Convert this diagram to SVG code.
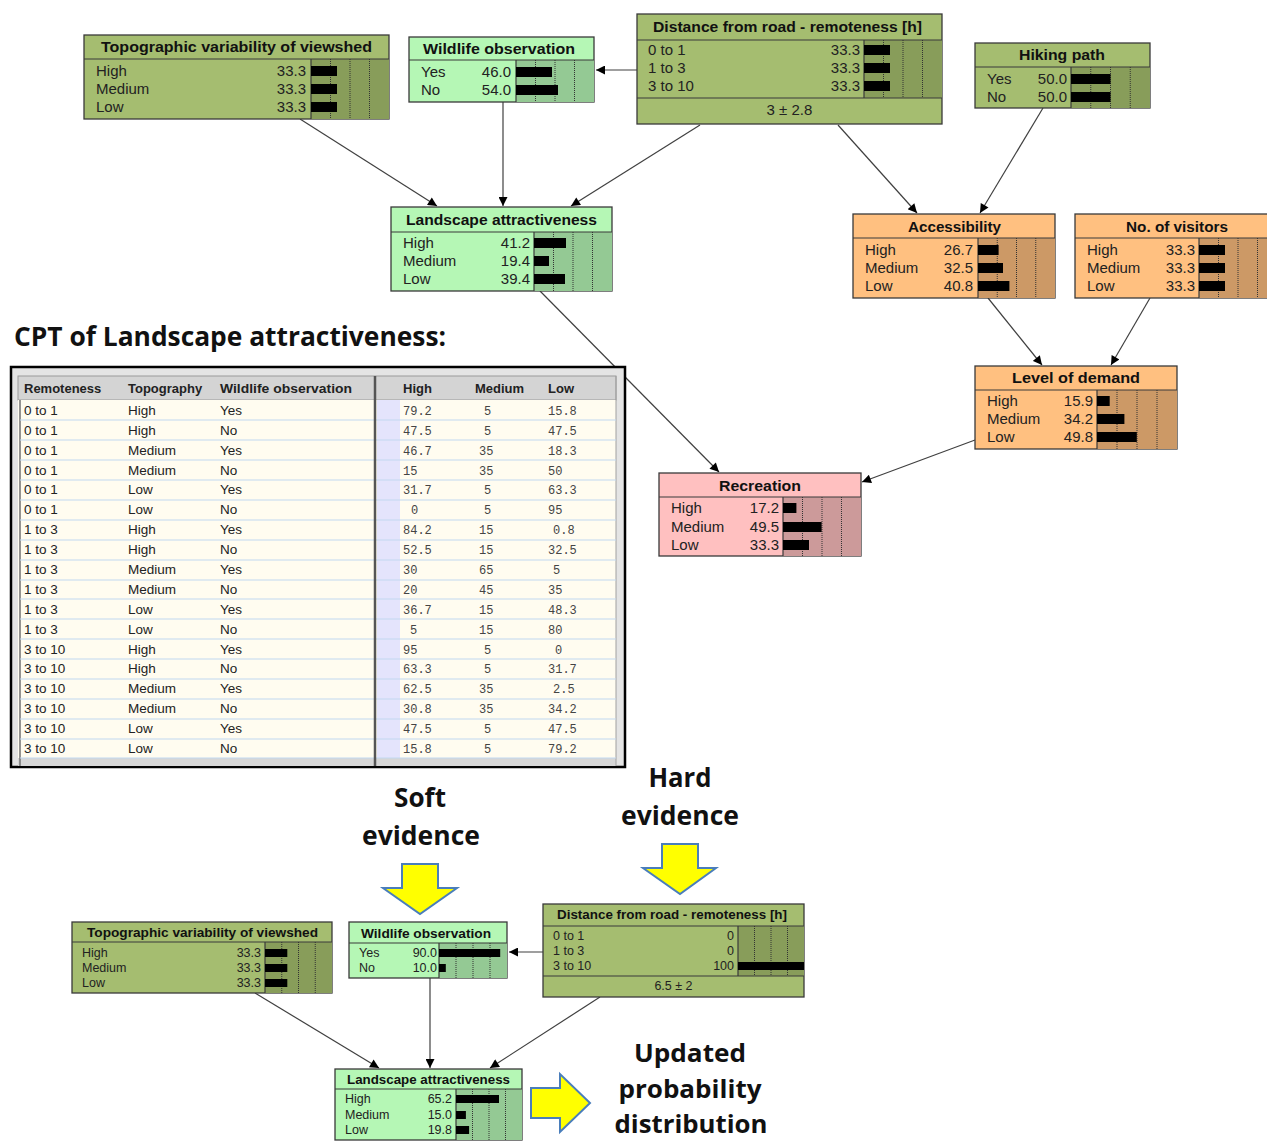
<svg xmlns="http://www.w3.org/2000/svg" width="1267" height="1142" viewBox="0 0 1267 1142">
<defs>
<style>
.olive{fill:#a5bd70;stroke:#3a3a3a;stroke-width:1.3}
.oliveBar{fill:#889d5a}
.green{fill:#b5f7b5;stroke:#3a3a3a;stroke-width:1.3}
.greenBar{fill:#94c994}
.orange{fill:#ffc080;stroke:#3a3a3a;stroke-width:1.3}
.orangeBar{fill:#cc9966}
.pink{fill:#ffc0c0;stroke:#3a3a3a;stroke-width:1.3}
.pinkBar{fill:#cc9a9a}
.div{stroke:#3a3a3a;stroke-width:1.2;fill:none}
.grid{stroke:#333;stroke-width:1;stroke-dasharray:1,1;fill:none}
.bar{fill:#000}
.t{font-family:"Liberation Sans",Arial,sans-serif;font-weight:bold;font-size:15px;fill:#111;text-anchor:middle}
.l{font-family:"Liberation Sans",Arial,sans-serif;font-size:15px;fill:#222}
.v{font-family:"Liberation Sans",Arial,sans-serif;font-size:15px;fill:#222;text-anchor:end}
.ts{font-family:"Liberation Sans",Arial,sans-serif;font-weight:bold;font-size:13px;fill:#111;text-anchor:middle}
.ls{font-family:"Liberation Sans",Arial,sans-serif;font-size:12.5px;fill:#222}
.vs{font-family:"Liberation Sans",Arial,sans-serif;font-size:12.5px;fill:#222;text-anchor:end}
.conn{stroke:#404040;stroke-width:1.2;fill:none;marker-end:url(#ah)}
.big{font-family:"Open Sans","Liberation Sans",sans-serif;font-weight:bold;font-size:27px;fill:#111;text-anchor:middle}
.big2{font-family:"Open Sans","Liberation Sans",sans-serif;font-weight:bold;font-size:25px;fill:#111;text-anchor:middle}
.th{font-family:"Liberation Sans",Arial,sans-serif;font-weight:bold;font-size:13px;fill:#222}
.tc{font-family:"Liberation Sans",Arial,sans-serif;font-size:13.5px;fill:#222}
.tn{font-family:"Liberation Mono","Courier New",monospace;font-size:12px;fill:#444}
.rowl{stroke:#c2d8ef;stroke-width:1.2}
.yarrow{fill:#ffff00;stroke:#4a7ebb;stroke-width:2}
</style>
<marker id="ah" viewBox="0 0 10 10" refX="10" refY="5" markerWidth="11" markerHeight="9" markerUnits="userSpaceOnUse" orient="auto"><path d="M0,0 L10,5 L0,10 z" fill="#000"/></marker>
</defs>
<rect width="1267" height="1142" fill="#fff"/>

<!-- connectors -->
<g id="connectors">
<line class="conn" x1="637" y1="70" x2="596" y2="70"/>
<line class="conn" x1="300" y1="119" x2="437" y2="206"/>
<line class="conn" x1="503" y1="102" x2="503" y2="206"/>
<line class="conn" x1="700" y1="125" x2="571" y2="206"/>
<line class="conn" x1="838" y1="125" x2="917" y2="213"/>
<line class="conn" x1="1043" y1="108" x2="980" y2="213"/>
<line class="conn" x1="988" y1="298" x2="1042" y2="365"/>
<line class="conn" x1="1150" y1="298" x2="1111" y2="365"/>
<line class="conn" x1="540" y1="291" x2="719" y2="472"/>
<line class="conn" x1="975" y1="440" x2="862" y2="482"/>
<line class="conn" x1="543" y1="952" x2="509" y2="952"/>
<line class="conn" x1="255" y1="993" x2="379" y2="1068"/>
<line class="conn" x1="430" y1="978" x2="430" y2="1068"/>
<line class="conn" x1="600" y1="997" x2="490" y2="1068"/>
</g>

<!-- top nodes -->
<g id="topo_top">
<rect x="84" y="35" width="305" height="84" class="olive"/>
<rect x="311" y="59" width="78" height="60" class="oliveBar"/>
<line class="div" x1="84" y1="59" x2="389" y2="59"/><line class="div" x1="311" y1="59" x2="311" y2="119"/>
<path class="grid" d="M330.5,59V119M350,59V119M369.5,59V119"/>
<text class="t" x="236.5" y="52" textLength="271" lengthAdjust="spacingAndGlyphs">Topographic variability of viewshed</text>
<text class="l" x="96" y="76">High</text><text class="v" x="306" y="76">33.3</text><rect class="bar" x="311" y="66" width="26" height="10"/>
<text class="l" x="96" y="94">Medium</text><text class="v" x="306" y="94">33.3</text><rect class="bar" x="311" y="84" width="26" height="10"/>
<text class="l" x="96" y="112">Low</text><text class="v" x="306" y="112">33.3</text><rect class="bar" x="311" y="102" width="26" height="10"/>
</g>

<g id="wildlife_top">
<rect x="409" y="37" width="185" height="65" class="green"/>
<rect x="516" y="60" width="78" height="42" class="greenBar"/>
<line class="div" x1="409" y1="60" x2="594" y2="60"/><line class="div" x1="516" y1="60" x2="516" y2="102"/>
<path class="grid" d="M535.5,60V102M555,60V102M574.5,60V102"/>
<text class="t" x="499" y="54" textLength="152" lengthAdjust="spacingAndGlyphs">Wildlife observation</text>
<text class="l" x="421" y="77">Yes</text><text class="v" x="511" y="77">46.0</text><rect class="bar" x="516" y="67" width="36" height="10"/>
<text class="l" x="421" y="95">No</text><text class="v" x="511" y="95">54.0</text><rect class="bar" x="516" y="85" width="42" height="10"/>
</g>

<g id="distance_top">
<rect x="637" y="14" width="305" height="110" class="olive"/>
<rect x="864" y="40" width="78" height="58" class="oliveBar"/>
<line class="div" x1="637" y1="40" x2="942" y2="40"/><line class="div" x1="637" y1="98" x2="942" y2="98"/><line class="div" x1="864" y1="40" x2="864" y2="98"/>
<path class="grid" d="M883.5,40V98M903,40V98M922.5,40V98"/>
<text class="t" x="787.5" y="32" textLength="269" lengthAdjust="spacingAndGlyphs">Distance from road - remoteness [h]</text>
<text class="l" x="648" y="55">0 to 1</text><text class="v" x="860" y="55">33.3</text><rect class="bar" x="864" y="45" width="26" height="10"/>
<text class="l" x="648" y="73">1 to 3</text><text class="v" x="860" y="73">33.3</text><rect class="bar" x="864" y="63" width="26" height="10"/>
<text class="l" x="648" y="91">3 to 10</text><text class="v" x="860" y="91">33.3</text><rect class="bar" x="864" y="81" width="26" height="10"/>
<text class="l" x="789.5" y="115" text-anchor="middle">3 ± 2.8</text>
</g>

<g id="hiking">
<rect x="975" y="43" width="175" height="65" class="olive"/>
<rect x="1071" y="67" width="79" height="41" class="oliveBar"/>
<line class="div" x1="975" y1="67" x2="1150" y2="67"/><line class="div" x1="1071" y1="67" x2="1071" y2="108"/>
<path class="grid" d="M1090.75,67V108M1110.5,67V108M1130.25,67V108"/>
<text class="t" x="1062" y="60" textLength="86" lengthAdjust="spacingAndGlyphs">Hiking path</text>
<text class="l" x="987" y="84">Yes</text><text class="v" x="1067" y="84">50.0</text><rect class="bar" x="1071" y="74" width="39.5" height="10"/>
<text class="l" x="987" y="102">No</text><text class="v" x="1067" y="102">50.0</text><rect class="bar" x="1071" y="92" width="39.5" height="10"/>
</g>

<g id="landscape_top">
<rect x="391" y="207" width="221" height="84" class="green"/>
<rect x="534" y="232" width="78" height="59" class="greenBar"/>
<line class="div" x1="391" y1="232" x2="612" y2="232"/><line class="div" x1="534" y1="232" x2="534" y2="291"/>
<path class="grid" d="M553.5,232V291M573,232V291M592.5,232V291"/>
<text class="t" x="501.5" y="225" textLength="191" lengthAdjust="spacingAndGlyphs">Landscape attractiveness</text>
<text class="l" x="403" y="248">High</text><text class="v" x="530" y="248">41.2</text><rect class="bar" x="534" y="238" width="32" height="10"/>
<text class="l" x="403" y="266">Medium</text><text class="v" x="530" y="266">19.4</text><rect class="bar" x="534" y="256" width="15" height="10"/>
<text class="l" x="403" y="284">Low</text><text class="v" x="530" y="284">39.4</text><rect class="bar" x="534" y="274" width="31" height="10"/>
</g>

<g id="accessibility">
<rect x="853" y="214" width="202" height="84" class="orange"/>
<rect x="978" y="238" width="77" height="60" class="orangeBar"/>
<line class="div" x1="853" y1="238" x2="1055" y2="238"/><line class="div" x1="978" y1="238" x2="978" y2="298"/>
<path class="grid" d="M997.25,238V298M1016.5,238V298M1035.75,238V298"/>
<text class="t" x="954.5" y="232" textLength="93" lengthAdjust="spacingAndGlyphs">Accessibility</text>
<text class="l" x="865" y="255">High</text><text class="v" x="973" y="255">26.7</text><rect class="bar" x="978" y="245" width="20.6" height="10"/>
<text class="l" x="865" y="273">Medium</text><text class="v" x="973" y="273">32.5</text><rect class="bar" x="978" y="263" width="25" height="10"/>
<text class="l" x="865" y="291">Low</text><text class="v" x="973" y="291">40.8</text><rect class="bar" x="978" y="281" width="31.4" height="10"/>
</g>

<g id="visitors">
<rect x="1075" y="214" width="202" height="84" class="orange"/>
<rect x="1199" y="238" width="78" height="60" class="orangeBar"/>
<line class="div" x1="1075" y1="238" x2="1277" y2="238"/><line class="div" x1="1199" y1="238" x2="1199" y2="298"/>
<path class="grid" d="M1218.5,238V298M1238,238V298M1257.5,238V298"/>
<text class="t" x="1177" y="232" textLength="102" lengthAdjust="spacingAndGlyphs">No. of visitors</text>
<text class="l" x="1087" y="255">High</text><text class="v" x="1195" y="255">33.3</text><rect class="bar" x="1199" y="245" width="26" height="10"/>
<text class="l" x="1087" y="273">Medium</text><text class="v" x="1195" y="273">33.3</text><rect class="bar" x="1199" y="263" width="26" height="10"/>
<text class="l" x="1087" y="291">Low</text><text class="v" x="1195" y="291">33.3</text><rect class="bar" x="1199" y="281" width="26" height="10"/>
</g>

<g id="demand">
<rect x="975" y="366" width="202" height="83" class="orange"/>
<rect x="1097" y="390" width="80" height="59" class="orangeBar"/>
<line class="div" x1="975" y1="390" x2="1177" y2="390"/><line class="div" x1="1097" y1="390" x2="1097" y2="449"/>
<path class="grid" d="M1117,390V449M1137,390V449M1157,390V449"/>
<text class="t" x="1076" y="383" textLength="128" lengthAdjust="spacingAndGlyphs">Level of demand</text>
<text class="l" x="987" y="406">High</text><text class="v" x="1093" y="406">15.9</text><rect class="bar" x="1097" y="396" width="12.7" height="10"/>
<text class="l" x="987" y="424">Medium</text><text class="v" x="1093" y="424">34.2</text><rect class="bar" x="1097" y="414" width="27.4" height="10"/>
<text class="l" x="987" y="442">Low</text><text class="v" x="1093" y="442">49.8</text><rect class="bar" x="1097" y="432" width="39.8" height="10"/>
</g>

<g id="recreation">
<rect x="659" y="473" width="202" height="83" class="pink"/>
<rect x="783" y="497" width="78" height="59" class="pinkBar"/>
<line class="div" x1="659" y1="497" x2="861" y2="497"/><line class="div" x1="783" y1="497" x2="783" y2="556"/>
<path class="grid" d="M802.5,497V556M822,497V556M841.5,497V556"/>
<text class="t" x="760" y="491" textLength="82" lengthAdjust="spacingAndGlyphs">Recreation</text>
<text class="l" x="671" y="513">High</text><text class="v" x="779" y="513">17.2</text><rect class="bar" x="783" y="503" width="13.4" height="10"/>
<text class="l" x="671" y="532">Medium</text><text class="v" x="779" y="532">49.5</text><rect class="bar" x="783" y="522" width="38.6" height="10"/>
<text class="l" x="671" y="550">Low</text><text class="v" x="779" y="550">33.3</text><rect class="bar" x="783" y="540" width="26" height="10"/>
</g>

<!-- CPT table -->
<text x="14" y="346" font-family="'Open Sans','Liberation Sans',sans-serif" font-weight="bold" font-size="26" fill="#111" textLength="432" lengthAdjust="spacingAndGlyphs">CPT of Landscape attractiveness:</text>
<g id="cpt_table">
<rect x="11" y="367" width="614" height="400" fill="#e4e4e4" stroke="#000" stroke-width="2.5"/>
<rect x="18" y="376" width="598" height="24" fill="#d4d4d4" stroke="#9a9a9a" stroke-width="1"/>
<rect x="18" y="400" width="598" height="358" fill="#fffcf0"/>
<rect x="377" y="400" width="23" height="358" fill="#e4e4fc"/>
<rect x="18" y="758" width="598" height="8" fill="#d6d6d6"/>
<line x1="20" y1="400" x2="20" y2="766" stroke="#707070" stroke-width="1.5"/>
<line x1="616" y1="376" x2="616" y2="766" stroke="#a0a0a0" stroke-width="1"/>
<g class="rowl">
<line x1="20" y1="420" x2="616" y2="420"/><line x1="20" y1="440" x2="616" y2="440"/><line x1="20" y1="460" x2="616" y2="460"/><line x1="20" y1="480" x2="616" y2="480"/><line x1="20" y1="500" x2="616" y2="500"/><line x1="20" y1="520" x2="616" y2="520"/><line x1="20" y1="540" x2="616" y2="540"/><line x1="20" y1="560" x2="616" y2="560"/><line x1="20" y1="580" x2="616" y2="580"/><line x1="20" y1="599" x2="616" y2="599"/><line x1="20" y1="619" x2="616" y2="619"/><line x1="20" y1="639" x2="616" y2="639"/><line x1="20" y1="659" x2="616" y2="659"/><line x1="20" y1="679" x2="616" y2="679"/><line x1="20" y1="699" x2="616" y2="699"/><line x1="20" y1="719" x2="616" y2="719"/><line x1="20" y1="739" x2="616" y2="739"/><line x1="20" y1="758" x2="616" y2="758"/>
</g>
<line x1="375" y1="376" x2="375" y2="766" stroke="#555" stroke-width="2.5"/>
<text class="th" x="24" y="393">Remoteness</text><text class="th" x="128" y="393">Topography</text><text class="th" x="220" y="393" textLength="132" lengthAdjust="spacingAndGlyphs">Wildlife observation</text>
<text class="th" x="403" y="393">High</text><text class="th" x="475" y="393">Medium</text><text class="th" x="548" y="393">Low</text>

<text class="tc" x="24" y="415">0 to 1</text><text class="tc" x="128" y="415">High</text><text class="tc" x="220" y="415">Yes</text><text class="tn" x="403" y="415">79.2</text><text class="tn" x="484" y="415">5</text><text class="tn" x="548" y="415">15.8</text>
<text class="tc" x="24" y="435">0 to 1</text><text class="tc" x="128" y="435">High</text><text class="tc" x="220" y="435">No</text><text class="tn" x="403" y="435">47.5</text><text class="tn" x="484" y="435">5</text><text class="tn" x="548" y="435">47.5</text>
<text class="tc" x="24" y="455">0 to 1</text><text class="tc" x="128" y="455">Medium</text><text class="tc" x="220" y="455">Yes</text><text class="tn" x="403" y="455">46.7</text><text class="tn" x="479" y="455">35</text><text class="tn" x="548" y="455">18.3</text>
<text class="tc" x="24" y="475">0 to 1</text><text class="tc" x="128" y="475">Medium</text><text class="tc" x="220" y="475">No</text><text class="tn" x="403" y="475">15</text><text class="tn" x="479" y="475">35</text><text class="tn" x="548" y="475">50</text>
<text class="tc" x="24" y="494">0 to 1</text><text class="tc" x="128" y="494">Low</text><text class="tc" x="220" y="494">Yes</text><text class="tn" x="403" y="494">31.7</text><text class="tn" x="484" y="494">5</text><text class="tn" x="548" y="494">63.3</text>
<text class="tc" x="24" y="514">0 to 1</text><text class="tc" x="128" y="514">Low</text><text class="tc" x="220" y="514">No</text><text class="tn" x="411" y="514">0</text><text class="tn" x="484" y="514">5</text><text class="tn" x="548" y="514">95</text>
<text class="tc" x="24" y="534">1 to 3</text><text class="tc" x="128" y="534">High</text><text class="tc" x="220" y="534">Yes</text><text class="tn" x="403" y="534">84.2</text><text class="tn" x="479" y="534">15</text><text class="tn" x="553" y="534">0.8</text>
<text class="tc" x="24" y="554">1 to 3</text><text class="tc" x="128" y="554">High</text><text class="tc" x="220" y="554">No</text><text class="tn" x="403" y="554">52.5</text><text class="tn" x="479" y="554">15</text><text class="tn" x="548" y="554">32.5</text>
<text class="tc" x="24" y="574">1 to 3</text><text class="tc" x="128" y="574">Medium</text><text class="tc" x="220" y="574">Yes</text><text class="tn" x="403" y="574">30</text><text class="tn" x="479" y="574">65</text><text class="tn" x="553" y="574">5</text>
<text class="tc" x="24" y="594">1 to 3</text><text class="tc" x="128" y="594">Medium</text><text class="tc" x="220" y="594">No</text><text class="tn" x="403" y="594">20</text><text class="tn" x="479" y="594">45</text><text class="tn" x="548" y="594">35</text>
<text class="tc" x="24" y="614">1 to 3</text><text class="tc" x="128" y="614">Low</text><text class="tc" x="220" y="614">Yes</text><text class="tn" x="403" y="614">36.7</text><text class="tn" x="479" y="614">15</text><text class="tn" x="548" y="614">48.3</text>
<text class="tc" x="24" y="634">1 to 3</text><text class="tc" x="128" y="634">Low</text><text class="tc" x="220" y="634">No</text><text class="tn" x="410" y="634">5</text><text class="tn" x="479" y="634">15</text><text class="tn" x="548" y="634">80</text>
<text class="tc" x="24" y="654">3 to 10</text><text class="tc" x="128" y="654">High</text><text class="tc" x="220" y="654">Yes</text><text class="tn" x="403" y="654">95</text><text class="tn" x="484" y="654">5</text><text class="tn" x="555" y="654">0</text>
<text class="tc" x="24" y="673">3 to 10</text><text class="tc" x="128" y="673">High</text><text class="tc" x="220" y="673">No</text><text class="tn" x="403" y="673">63.3</text><text class="tn" x="484" y="673">5</text><text class="tn" x="548" y="673">31.7</text>
<text class="tc" x="24" y="693">3 to 10</text><text class="tc" x="128" y="693">Medium</text><text class="tc" x="220" y="693">Yes</text><text class="tn" x="403" y="693">62.5</text><text class="tn" x="479" y="693">35</text><text class="tn" x="553" y="693">2.5</text>
<text class="tc" x="24" y="713">3 to 10</text><text class="tc" x="128" y="713">Medium</text><text class="tc" x="220" y="713">No</text><text class="tn" x="403" y="713">30.8</text><text class="tn" x="479" y="713">35</text><text class="tn" x="548" y="713">34.2</text>
<text class="tc" x="24" y="733">3 to 10</text><text class="tc" x="128" y="733">Low</text><text class="tc" x="220" y="733">Yes</text><text class="tn" x="403" y="733">47.5</text><text class="tn" x="484" y="733">5</text><text class="tn" x="548" y="733">47.5</text>
<text class="tc" x="24" y="753">3 to 10</text><text class="tc" x="128" y="753">Low</text><text class="tc" x="220" y="753">No</text><text class="tn" x="403" y="753">15.8</text><text class="tn" x="484" y="753">5</text><text class="tn" x="548" y="753">79.2</text>
</g>

<!-- evidence labels and arrows -->
<text class="big" x="420" y="807" textLength="52" lengthAdjust="spacingAndGlyphs">Soft</text>
<text class="big" x="421" y="845" textLength="118" lengthAdjust="spacingAndGlyphs">evidence</text>
<text class="big" x="680" y="787" textLength="63" lengthAdjust="spacingAndGlyphs">Hard</text>
<text class="big" x="680" y="825" textLength="118" lengthAdjust="spacingAndGlyphs">evidence</text>
<text class="big2" x="690" y="1062" textLength="112" lengthAdjust="spacingAndGlyphs">Updated</text>
<text class="big2" x="690" y="1098" textLength="143" lengthAdjust="spacingAndGlyphs">probability</text>
<text class="big2" x="691" y="1133" textLength="153" lengthAdjust="spacingAndGlyphs">distribution</text>
<polygon class="yarrow" points="402,864 438,864 438,888 457,888 420,914 383,888 402,888"/>
<polygon class="yarrow" points="662,844 698,844 698,868 716,868 680,894 643,868 662,868"/>
<polygon class="yarrow" points="531,1088 560,1088 560,1074 590,1103 560,1132 560,1118 531,1118"/>

<!-- bottom nodes -->
<g id="topo_bottom">
<rect x="72" y="922" width="260" height="71" class="olive"/>
<rect x="265" y="942" width="67" height="51" class="oliveBar"/>
<line class="div" x1="72" y1="942" x2="332" y2="942"/><line class="div" x1="265" y1="942" x2="265" y2="993"/>
<path class="grid" d="M281.75,942V993M298.5,942V993M315.25,942V993"/>
<text class="ts" x="202.5" y="937" textLength="231" lengthAdjust="spacingAndGlyphs">Topographic variability of viewshed</text>
<text class="ls" x="82" y="957">High</text><text class="vs" x="261" y="957">33.3</text><rect class="bar" x="265" y="949" width="22.3" height="8"/>
<text class="ls" x="82" y="972">Medium</text><text class="vs" x="261" y="972">33.3</text><rect class="bar" x="265" y="964" width="22.3" height="8"/>
<text class="ls" x="82" y="987">Low</text><text class="vs" x="261" y="987">33.3</text><rect class="bar" x="265" y="979" width="22.3" height="8"/>
</g>

<g id="wildlife_bottom">
<rect x="349" y="922" width="158" height="56" class="green"/>
<rect x="439" y="943" width="68" height="35" class="greenBar"/>
<line class="div" x1="349" y1="943" x2="507" y2="943"/><line class="div" x1="439" y1="943" x2="439" y2="978"/>
<path class="grid" d="M456,943V978M473,943V978M490,943V978"/>
<text class="ts" x="426" y="938" textLength="130" lengthAdjust="spacingAndGlyphs">Wildlife observation</text>
<text class="ls" x="359" y="957">Yes</text><text class="vs" x="437" y="957">90.0</text><rect class="bar" x="439" y="949" width="61.2" height="8"/>
<text class="ls" x="359" y="972">No</text><text class="vs" x="437" y="972">10.0</text><rect class="bar" x="439" y="964" width="6.8" height="8"/>
</g>

<g id="distance_bottom">
<rect x="543" y="904" width="261" height="93" class="olive"/>
<rect x="738" y="926" width="66" height="50" class="oliveBar"/>
<line class="div" x1="543" y1="926" x2="804" y2="926"/><line class="div" x1="543" y1="976" x2="804" y2="976"/><line class="div" x1="738" y1="926" x2="738" y2="976"/>
<path class="grid" d="M754.5,926V976M771,926V976M787.5,926V976"/>
<text class="ts" x="672" y="919" textLength="230" lengthAdjust="spacingAndGlyphs">Distance from road - remoteness [h]</text>
<text class="ls" x="553" y="940">0 to 1</text><text class="vs" x="734" y="940">0</text>
<text class="ls" x="553" y="955">1 to 3</text><text class="vs" x="734" y="955">0</text>
<text class="ls" x="553" y="970">3 to 10</text><text class="vs" x="734" y="970">100</text><rect class="bar" x="738" y="962" width="66" height="8"/>
<text class="ls" x="673.5" y="990" text-anchor="middle">6.5 ± 2</text>
</g>

<g id="landscape_bottom">
<rect x="335" y="1069" width="187" height="71" class="green"/>
<rect x="456" y="1089" width="66" height="51" class="greenBar"/>
<line class="div" x1="335" y1="1089" x2="522" y2="1089"/><line class="div" x1="456" y1="1089" x2="456" y2="1140"/>
<path class="grid" d="M472.5,1089V1140M489,1089V1140M505.5,1089V1140"/>
<text class="ts" x="428.5" y="1084" textLength="163" lengthAdjust="spacingAndGlyphs">Landscape attractiveness</text>
<text class="ls" x="345" y="1103">High</text><text class="vs" x="452" y="1103">65.2</text><rect class="bar" x="456" y="1095" width="43" height="8"/>
<text class="ls" x="345" y="1119">Medium</text><text class="vs" x="452" y="1119">15.0</text><rect class="bar" x="456" y="1111" width="9.9" height="8"/>
<text class="ls" x="345" y="1134">Low</text><text class="vs" x="452" y="1134">19.8</text><rect class="bar" x="456" y="1126" width="13.1" height="8"/>
</g>
</svg>
